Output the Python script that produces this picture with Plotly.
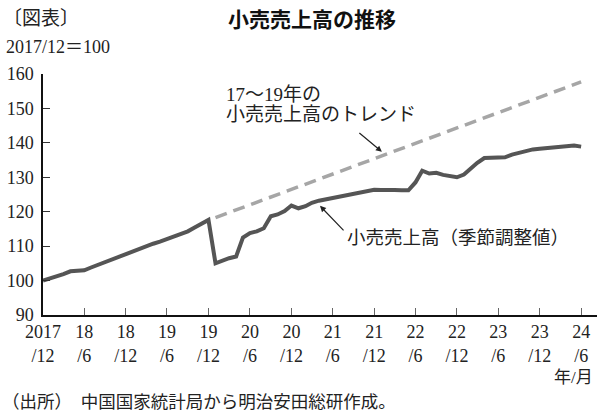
import pandas as pd
import plotly.graph_objects as go

# monthly index, 2017/12 = 100 (seasonally adjusted retail sales)
months = pd.date_range("2017-12-01", "2024-06-01", freq="MS")
retail = [
    100.0, 100.6, 101.2, 101.9, 102.7, 102.8, 103.0, 103.8, 104.6, 105.4,
    106.2, 107.0, 107.7, 108.5, 109.3, 110.0, 110.7, 111.3, 112.0, 112.7,
    113.4, 114.3, 115.4, 116.5, 117.6,
    105.0, 105.8, 106.5, 107.0, 112.5, 113.8, 114.3, 115.2, 118.7, 119.2,
    120.2, 121.8, 121.0, 121.6, 122.6, 123.2, 123.6, 124.2, 124.5, 124.9,
    125.4, 125.8, 126.2, 126.4, 126.3,
    126.4, 126.3, 126.2, 126.2, 128.5, 131.9, 131.1, 131.3, 130.7, 130.2,
    130.0, 130.8, 132.7, 134.2, 135.6, 135.7, 135.7, 135.8, 136.6, 137.2,
    137.8, 138.1, 138.3, 138.5, 138.6, 138.7, 139.0, 139.2, 138.9,
]

# 2017-19 trend extended from 2020/1 to 2024/6
trend_x = ["2020-01-01", "2024-06-01"]
trend_y = [118.3, 157.7]

tick_vals = pd.date_range("2017-12-01", "2024-06-01", freq="6MS")
tick_text = ["2017<br>/12", "18<br>/6", "18<br>/12", "19<br>/6", "19<br>/12",
             "20<br>/6", "20<br>/12", "21<br>/6", "21<br>/12", "22<br>/6",
             "22<br>/12", "23<br>/6", "23<br>/12", "24<br>/6"]

SERIF = "Liberation Serif, Noto Sans CJK JP"
JP = "Noto Sans CJK JP"

fig = go.Figure()

fig.add_trace(go.Scatter(x=trend_x, y=trend_y, mode="lines",
                         line=dict(color="#a6a6a6", width=3.5, dash="12px,7px")))
fig.add_trace(go.Scatter(x=months, y=retail, mode="lines",
                         line=dict(color="#555555", width=4)))

# plot area in pixels: x 43..597, y 74..315
def px(x):
    return (x - 43) / 554

def py(y):
    return (315 - y) / 241

texts = [
    ("〔図表〕", 1, 17, 19, JP, "left", "#222"),
    ("<b>小売売上高の推移</b>", 312, 18, 21, JP, "center", "#111"),
    ("2017/12＝100", 4, 47, 18, SERIF, "left", "#222"),
    ("17〜19年の", 224, 94, 19, SERIF, "left", "#222"),
    ("小売売上高のトレンド", 224, 115, 19, SERIF, "left", "#222"),
    ("小売売上高（季節調整値）", 345, 238, 18.5, SERIF, "left", "#222"),
    ("年/月", 595, 377, 17, SERIF, "right", "#222"),
    ("（出所）　中国国家統計局から明治安田総研作成。", 0, 402, 17.5, SERIF, "left", "#222"),
]
for t, x, y, size, fam, anchor, col in texts:
    fig.add_annotation(text=t, xref="paper", yref="paper", x=px(x), y=py(y),
                       xanchor=anchor, yanchor="middle", showarrow=False,
                       font=dict(size=size, family=fam, color=col))

# arrows
fig.add_annotation(x="2022-01-04", y=137.4, xref="x", yref="y", text="",
                   showarrow=True, arrowhead=2, arrowsize=1, arrowwidth=1.2,
                   arrowcolor="#222", ax=-24, ay=-20)
fig.add_annotation(x="2021-04-06", y=121.7, xref="x", yref="y", text="",
                   showarrow=True, arrowhead=2, arrowsize=1, arrowwidth=1.2,
                   arrowcolor="#222", ax=25, ay=26)

fig.update_layout(
    width=600, height=416,
    margin=dict(l=43, r=3, t=74, b=101),
    paper_bgcolor="white", plot_bgcolor="white",
    showlegend=False,
    font=dict(family=SERIF, color="#222"),
)

fig.update_xaxes(
    type="date", range=["2017-12-01", "2024-08-10"],
    tickvals=tick_vals, ticktext=tick_text,
    showgrid=False, zeroline=False,
    showline=True, linecolor="#111", linewidth=1.5,
    ticks="inside", ticklen=7, tickcolor="#666", tickwidth=1,
    tickfont=dict(size=18, family=SERIF, color="#222"),
)
fig.update_yaxes(
    range=[90, 160], dtick=10,
    showgrid=False, zeroline=False,
    showline=True, linecolor="#111", linewidth=1.5,
    ticks="inside", ticklen=7, tickcolor="#333", tickwidth=1,
    tickfont=dict(size=18, family=SERIF, color="#222"),
    ticklabelstandoff=4,
)

# drop the page's default body margin so the figure sits at the window corner
fig.write_html("out.html", config={"displayModeBar": False},
               post_script="document.body.style.margin='0';")
